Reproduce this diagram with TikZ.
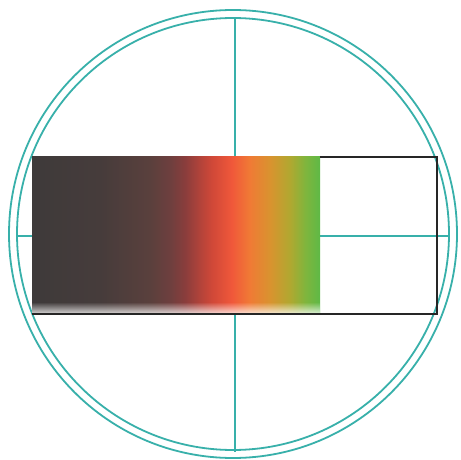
\documentclass[tikz,border=0pt]{standalone}
\usepackage{xcolor}
\definecolor{teal1}{HTML}{38B0AA}
\definecolor{rim}{HTML}{262626}
\definecolor{h0}{HTML}{3E3A3A}
\definecolor{h1}{HTML}{463C3B}
\definecolor{h2}{HTML}{5A403D}
\definecolor{h3}{HTML}{6E3F3E}
\definecolor{h4}{HTML}{8A3D3C}
\definecolor{h5}{HTML}{B3433A}
\definecolor{h6}{HTML}{D04838}
\definecolor{h7}{HTML}{F0583A}
\definecolor{h8}{HTML}{F07A35}
\definecolor{h9}{HTML}{D9932F}
\definecolor{h10}{HTML}{B0A830}
\definecolor{h11}{HTML}{80B53D}
\definecolor{h12}{HTML}{5EB946}
\pgfdeclarehorizontalshading{heat}{100bp}{color(0bp)=(h0); color(25bp)=(h0); color(36.8bp)=(h1); color(45.5bp)=(h2); color(49bp)=(h3); color(51.6bp)=(h4); color(54.2bp)=(h5); color(56.25bp)=(h6); color(59.7bp)=(h7); color(62.8bp)=(h8); color(66.3bp)=(h9); color(69.8bp)=(h10); color(72.4bp)=(h11); color(75bp)=(h12); color(100bp)=(h12)}
\tikzset{
  ring/.style={draw=teal1, line width=1.8bp},
  hair/.style={draw=teal1, line width=2bp},
  frame/.style={draw=rim, line width=1.6bp}
}
\begin{document}
\begin{tikzpicture}[x=1bp,y=-1bp]
\useasboundingbox[fill=white] (0,0) rectangle (461,460);
\coordinate (c) at (233,234);
% circles
\draw[ring] (c) circle[radius=224];
\draw[ring] (c) circle[radius=216];
% crosshair
\coordinate (vt) at (235,18);
\coordinate (vb) at (235,452);
\coordinate (hl) at (17,236);
\coordinate (hr) at (450,236);
\draw[hair] (vt) -- (vb);
\draw[hair] (hl) -- (hr);
% gradient bar
\shade[shading=heat] (32,157) rectangle (320,314);
\foreach \i in {0,...,11}{
  \fill[white, opacity={0.068*\i}] (32,{302+\i}) rectangle (320,{303+\i});
}
% frame
\coordinate (f1) at (320,157);
\coordinate (f2) at (437,157);
\coordinate (f3) at (437,314);
\coordinate (f4) at (32,314);
\draw[frame] (f1) -- (f2) -- (f3) -- (f4);
\end{tikzpicture}
\end{document}
